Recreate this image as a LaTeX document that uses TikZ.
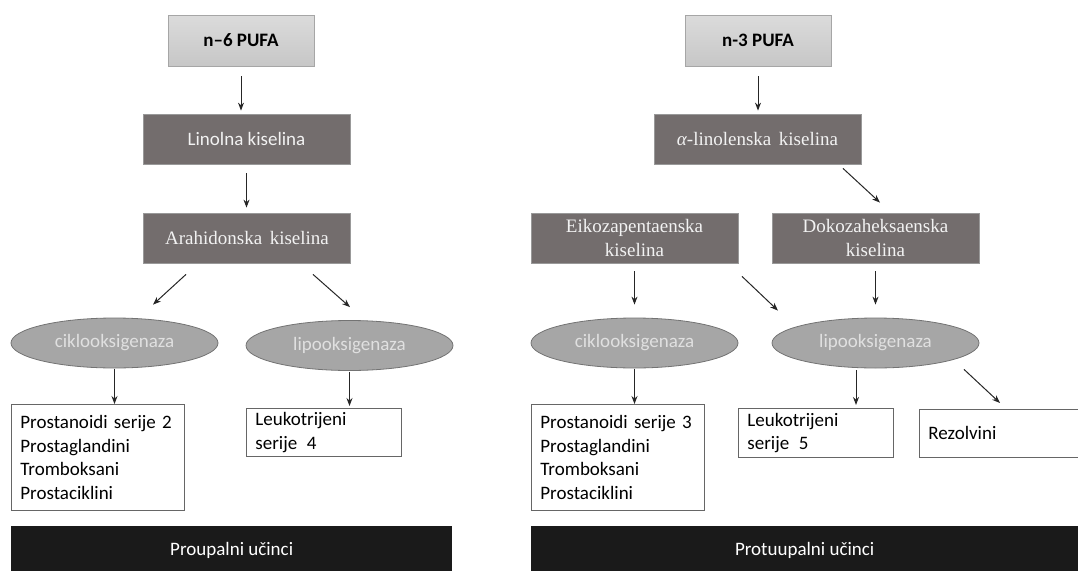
\documentclass[tikz,border=0pt]{standalone}
\usepackage{fontspec}
\setmainfont{Liberation Serif}
\newfontfamily\calibri{Carlito}
\usetikzlibrary{arrows.meta,shapes.geometric,positioning}

\definecolor{acidgrey}{HTML}{736D6D}
\definecolor{enzgrey}{HTML}{A6A6A6}
\definecolor{barblack}{HTML}{1A1A1A}
\newcommand\bigsize{\fontsize{19}{23.5}\selectfont}

\begin{document}
\begin{tikzpicture}[x=1pt,y=-1pt,
  pufa/.style    = {draw=black!35, line width=0.8pt,
    top color=black!14, bottom color=black!22,
    font=\calibri\bfseries\bigsize, minimum width=146pt,
    minimum height=51pt, inner sep=0pt},
  acid/.style    = {fill=acidgrey, draw=black!40, line width=0.8pt,
    text=white!95!black, minimum width=207pt, minimum height=50pt,
    inner sep=0pt, align=center, font=\bigsize},
  enzyme/.style  = {ellipse, fill=enzgrey, draw=black!55, line width=0.8pt,
    text=white!88!black, minimum width=207pt, minimum height=50pt,
    inner sep=0pt, font=\calibri\bigsize},
  product/.style = {draw=black!60, line width=0.8pt, fill=white,
    anchor=north west, align=left, inner xsep=9pt, inner ysep=0pt,
    font=\calibri\bigsize},
  effect/.style  = {fill=barblack, text=white, anchor=north west,
    minimum height=48pt, inner sep=0pt, font=\calibri\bigsize},
  arr/.style     = {-{Stealth[length=8pt,width=6pt]}, line width=1pt,
    draw=black!85}]
  \useasboundingbox (0,0) rectangle (1078,570);
  \clip (0,0) rectangle (1078,570);

  % n-6 side
  \node[pufa] (pufa6) at (241,40.5) {n–6 PUFA};
  \node[acid, font=\calibri\bigsize] (lin6) at (246.5,139) {Linolna kiselina};
  \node[acid] (ara6) at (247,238) {Arahidonska\hspace{.4em}kiselina};
  \node[enzyme] (cox6) at (114.5,343) {ciklooksigenaza};
  \node[enzyme] (lox6) at (349.5,345.5) {lipooksigenaza};
  \node[product, text width=155pt, minimum height=106pt] (pros2) at (11,404)
    {Prostanoidi serije 2\\Prostaglandini\\Tromboksani\\Prostaciklini};
  \node[product, text width=137pt, minimum height=48pt] (leu4) at (246,408)
    {Leukotrijeni\\serije\, 4};
  \node[effect, minimum width=441pt] (pro) at (11,526) {Proupalni učinci};

  % n-3 side
  \node[pufa] (pufa3) at (758,40.5) {n-3 PUFA};
  \node[acid] (lin3) at (757.5,139) {{\itshape α}-linolenska\hspace{.4em}kiselina};
  \node[acid] (epa) at (634.5,238) {Eikozapentaenska\\kiselina};
  \node[acid] (dha) at (875.5,238) {Dokozaheksaenska\\kiselina};
  \node[enzyme] (cox3) at (634.5,343) {ciklooksigenaza};
  \node[enzyme] (lox3) at (875.5,343) {lipooksigenaza};
  \node[product, text width=155pt, minimum height=106pt] (pros3) at (531,404)
    {Prostanoidi serije 3\\Prostaglandini\\Tromboksani\\Prostaciklini};
  \node[product, text width=137pt, minimum height=49pt] (leu5) at (738,408)
    {Leukotrijeni\\serije\, 5};
  \node[product, text width=157pt, minimum height=48pt] (rez) at (919,409)
    {Rezolvini};
  \node[effect, minimum width=547pt] (anti) at (531,526) {Protuupalni učinci};

  % arrows, n-6
  \draw[arr, shorten <=10pt, shorten >=3pt] (pufa6) -- (pufa6 |- lin6.north);
  \draw[arr, shorten <=9pt, shorten >=5pt] (lin6) -- (lin6 |- ara6.north);
  \draw[arr] ([xshift=-61pt,yshift=-11pt]ara6.south) -- ([xshift=38.5pt,yshift=13pt]cox6.north);
  \draw[arr] ([xshift=66pt,yshift=-11pt]ara6.south) -- ([xshift=0.5pt,yshift=13pt]lox6.north);
  \draw[arr, shorten <=1pt] (cox6) -- (cox6 |- pros2.north);
  \draw[arr, shorten <=1pt, shorten >=2pt] (lox6) -- (lox6 |- leu4.north);

  % arrows, n-3
  \draw[arr, shorten <=10pt, shorten >=3pt] (pufa3) -- (pufa3 |- lin3.north);
  \draw[arr] ([xshift=85.5pt,yshift=-4pt]lin3.south) -- ([xshift=4.5pt,yshift=10pt]dha.north);
  \draw[arr, shorten <=8pt, shorten >=13pt] (epa) -- (epa |- cox3.north);
  \draw[arr] ([xshift=107.5pt,yshift=-13pt]epa.south) -- ([xshift=-97.5pt,yshift=7pt]lox3.north);
  \draw[arr, shorten <=8pt, shorten >=13pt] (dha) -- (dha |- lox3.north);
  \draw[arr, shorten <=1pt] (cox3) -- (cox3 |- pros3.north);
  \coordinate (lox3a) at ([xshift=-19.5pt]lox3.south);
  \draw[arr, shorten <=2pt, shorten >=3pt] (lox3a) -- (lox3a |- leu5.north);
  \draw[arr] ([xshift=88.5pt,yshift=-1pt]lox3.south) -- ([xshift=81pt,yshift=6pt]rez.north west);
\end{tikzpicture}
\end{document}
